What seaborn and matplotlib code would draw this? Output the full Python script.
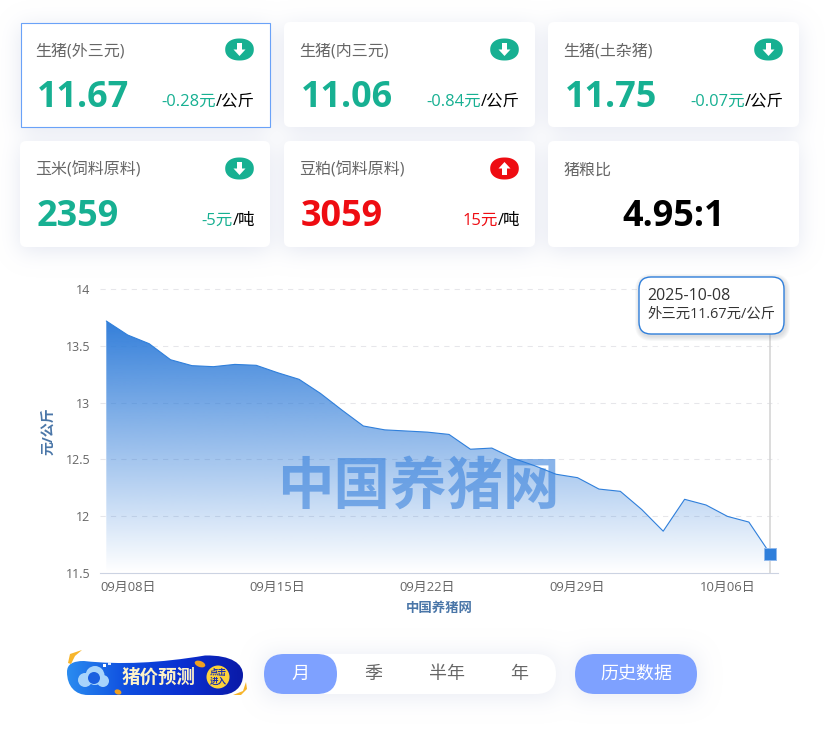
import numpy as np
import pandas as pd
import seaborn as sns
import matplotlib
matplotlib.use("Agg")
import matplotlib.pyplot as plt
from matplotlib.colors import LinearSegmentedColormap, to_rgb
from matplotlib.path import Path
from matplotlib.patches import FancyBboxPatch, Ellipse, Polygon, Circle, Rectangle, PathPatch

dates = ["2025-09-07", "2025-09-08", "2025-09-09", "2025-09-10", "2025-09-11", "2025-09-12",
         "2025-09-13", "2025-09-14", "2025-09-15", "2025-09-16", "2025-09-17", "2025-09-18",
         "2025-09-19", "2025-09-20", "2025-09-21", "2025-09-22", "2025-09-23", "2025-09-24",
         "2025-09-25", "2025-09-26", "2025-09-27", "2025-09-28", "2025-09-29", "2025-09-30",
         "2025-10-01", "2025-10-02", "2025-10-03", "2025-10-04", "2025-10-05", "2025-10-06",
         "2025-10-07", "2025-10-08"]
prices = [13.716, 13.593, 13.517, 13.376, 13.324, 13.315, 13.335, 13.327, 13.262, 13.204,
          13.08, 12.934, 12.794, 12.76, 12.75, 12.74, 12.72, 12.59, 12.60, 12.51, 12.445,
          12.37, 12.34, 12.24, 12.22, 12.06, 11.87, 12.15, 12.10, 12.0, 11.95, 11.67]
tick_dates = ["2025-09-08", "2025-09-15", "2025-09-22", "2025-09-29", "2025-10-06"]
tick_labels = ["09月08日", "09月15日", "09月22日", "09月29日", "10月06日"]
y_ticks = [11.5, 12, 12.5, 13, 13.5, 14]
y_tick_labels = ["11.5", "12", "12.5", "13", "13.5", "14"]

card_titles = ["生猪(外三元)", "生猪(内三元)", "生猪(土杂猪)", "玉米(饲料原料)", "豆粕(饲料原料)", "猪粮比"]
card_values = ["11.67", "11.06", "11.75", "2359", "3059", "4.95:1"]
card_changes = ["-0.28元", "-0.84元", "-0.07元", "-5元", "15元", ""]
card_units = ["/公斤", "/公斤", "/公斤", "/吨", "/吨", ""]
period_labels = ["月", "季", "半年", "年"]

GREEN = "#17b092"
RED = "#ee0c12"
BLUE = "#2f7fdb"
PILL = "#7ea1ff"

sns.set_style("white")
plt.rcParams['font.family'] = ['Open Sans', 'Noto Sans CJK SC', 'DejaVu Sans']


def px(size):
    return size * 0.72


def blur(mask, sigma):
    r = int(sigma * 3)
    k = np.exp(-0.5 * (np.arange(-r, r + 1) / sigma) ** 2)
    k /= k.sum()
    mask = np.apply_along_axis(lambda v: np.convolve(v, k, mode="same"), 0, mask)
    return np.apply_along_axis(lambda v: np.convolve(v, k, mode="same"), 1, mask)


def round_box(ax, x0, y0, x1, y1, r, color, zorder=2, ec="none", lw=0):
    box = FancyBboxPatch((x0, y0), x1 - x0, y1 - y0, boxstyle=f"round,pad=0,rounding_size={r}",
                         fc=color, ec=ec, lw=lw, zorder=zorder)
    ax.add_patch(box)
    return box


def arrow_icon(ax, cx, cy, color, up):
    t = np.linspace(0, 2 * np.pi, 80)
    ox = cx + 14.3 * np.sign(np.cos(t)) * np.abs(np.cos(t)) ** (2 / 2.2)
    oy = cy + 11 * np.sign(np.sin(t)) * np.abs(np.sin(t)) ** (2 / 2.2)
    ax.add_patch(Polygon(np.column_stack([ox, oy]), fc=color, ec="none", zorder=3))
    d = -1 if up else 1
    shape = [(-2.5, -6.5), (2.5, -6.5), (2.5, 0), (6, 0), (0, 6.5), (-6, 0), (-2.5, 0)]
    ax.add_patch(Polygon([(cx + a, cy + d * b) for a, b in shape], fc="white", ec="none", zorder=4))


fig = plt.figure(figsize=(8.25, 7.34), dpi=100, facecolor="white")

bg = fig.add_axes([0, 0, 1, 1], zorder=0)
bg.set_xlim(0, 825)
bg.set_ylim(734, 0)
bg.axis("off")

card_x = [(20, 270), (284, 535), (548, 799)]
card_y = [(22, 127), (141, 247)]

# soft shadow under cards and buttons
mask = np.zeros((734, 825))
for (y0, y1) in card_y:
    for (x0, x1) in card_x:
        mask[y0 + 4:y1 + 4, x0:x1] = 1
mask[654:698, 264:556] = 0.8
mask[654:698, 575:697] = 0.8
mask = blur(mask, 11)
shadow_rgba = np.zeros((734, 825, 4))
shadow_rgba[..., :3] = to_rgb("#d5daea")
shadow_rgba[..., 3] = np.clip(mask, 0, 1) * 0.62
bg.imshow(shadow_rgba, extent=(0, 825, 734, 0), aspect="auto", zorder=1, interpolation="nearest")
bg.set_xlim(0, 825)
bg.set_ylim(734, 0)

for i in range(6):
    x0, x1 = card_x[i % 3]
    y0, y1 = card_y[i // 3]
    if i == 0:
        bg.add_patch(Rectangle((x0 + 0.5, y0 + 0.5), x1 - x0 - 1, y1 - y0 - 1, fc="white", ec="#6aa2f8", lw=0.8, zorder=2))
    else:
        round_box(bg, x0, y0, x1, y1, 6, "white")

    color = RED if i == 4 else GREEN
    bg.text(x0 + 15.5, y0 + 33.5, card_titles[i], fontsize=px(16), color="#666666", va="baseline", zorder=5)
    if i == 5:
        bg.text((x0 + x1) / 2, y0 + 85, card_values[i], fontsize=px(36), fontweight="bold",
                color="black", ha="center", va="baseline", zorder=5)
        continue
    arrow_icon(bg, x1 - 30.5, y0 + 27.5, color, i == 4)
    bg.text(x0 + 17, y0 + 85, card_values[i], fontsize=px(36), fontweight="bold", color=color,
            va="baseline", zorder=5)
    unit = bg.text(x1 - 15, y0 + 83.5, card_units[i], fontsize=px(16.5), color="black",
                   ha="right", va="baseline", zorder=5)
    left = unit.get_window_extent(fig.canvas.get_renderer()).x0
    bg.text(left, y0 + 83.5, card_changes[i], fontsize=px(16.5), color=color, ha="right", va="baseline", zorder=5)

# chart
ax = fig.add_axes([100 / 825, 1 - 573.3 / 734, 678 / 825, 284.6 / 734], zorder=1)
ax.patch.set_alpha(0)
df = pd.DataFrame({"date": pd.to_datetime(dates), "price": prices})
sns.lineplot(data=df, x="date", y="price", ax=ax, color=BLUE, linewidth=0.8, zorder=4)

x_left = df["date"].iloc[0] - pd.Timedelta(days=0.294)
x_right = df["date"].iloc[0] + pd.Timedelta(days=31.36)
ax.set_xlim(x_left, x_right)
ax.set_ylim(11.5, 14)

fill = ax.fill_between(df["date"], df["price"], 11.5, color="none", lw=0)
area = np.zeros((256, 1, 4))
area[..., :3] = to_rgb("#2f7cd9")
area[:, 0, 3] = np.linspace(0.98, 0, 256)
xl = ax.get_xlim()
grad = ax.imshow(area, aspect="auto", extent=(xl[0], xl[1], 11.5, df["price"].max()), zorder=2)
grad.set_clip_path(fill.get_paths()[0], transform=ax.transData)
ax.set_xlim(x_left, x_right)
ax.set_ylim(11.5, 14)

for v in y_ticks[1:]:
    ax.axhline(v, color="#e6e6ea", lw=0.75, dashes=(5, 5), zorder=1, clip_on=False)

ax.set_yticks(y_ticks)
ax.set_yticklabels(y_tick_labels)
ax.set_xticks(pd.to_datetime(tick_dates))
ax.set_xticklabels(tick_labels)
ax.tick_params(axis="y", length=0, pad=7, labelsize=px(12.5), labelcolor="#666666")
ax.tick_params(axis="x", length=5, width=0.8, color="#ccd3e2", pad=0.5, labelsize=px(13), labelcolor="#666666")
for name in ["top", "right", "left"]:
    ax.spines[name].set_visible(False)
ax.spines["bottom"].set_color("#ccd3e2")
ax.set_xlabel("中国养猪网", fontsize=px(13.4), fontweight="bold", color="#4a76a8")
ax.set_ylabel("元/公斤", fontsize=px(14), fontweight="bold", color="#4a76a8")
ax.xaxis.set_label_coords((439 - 100) / 678, -(602 - 573.3) / 284.6, ax.transAxes)
ax.yaxis.set_label_coords((55 - 100) / 678, (573.3 - 431) / 284.6, ax.transAxes)

ax.text((418 - 100) / 678, (573.3 - 489) / 284.6, "中国养猪网", transform=ax.transAxes, fontsize=px(56.5),
        fontweight="bold", color="#3a82dc", alpha=0.6, ha="center", va="center", zorder=3.5)

last_date = df["date"].iloc[-1]
last_price = df["price"].iloc[-1]
ax.axvline(last_date, color="#d6d6d6", lw=1.2, zorder=3.8)
ax.plot([last_date], [last_price], marker="s", ms=8.6, mfc=BLUE, mec="#8fb8ec", mew=0.7, zorder=6, clip_on=False)

# top layer, tooltip
top = fig.add_axes([0, 0, 1, 1], zorder=2)
top.patch.set_alpha(0)
top.set_xlim(0, 825)
top.set_ylim(734, 0)
top.axis("off")
for s in range(5, 0, -1):
    top.add_patch(FancyBboxPatch((639 - s + 1, 277 - s + 2), 145 + 2 * s, 57 + 2 * s,
                                 boxstyle=f"round,pad=0,rounding_size={12 + s}",
                                 fc="#707888", ec="none", alpha=0.05, zorder=2))
round_box(top, 639, 277, 784, 334, 12, "white", zorder=3, ec=BLUE, lw=1.0)
top.text(647.5, 296, "2025-10-08", fontsize=px(16), color="#333333", va="center", zorder=4)
top.text(647, 314, "外三元11.67元/公斤", fontsize=px(14.4), color="#333333", va="center", zorder=4)

# bottom controls
round_box(bg, 264, 654, 556, 694, 20, "white")
round_box(bg, 264, 654, 337, 694, 20, PILL, zorder=3)
for label, cx, c in zip(period_labels, [300.5, 373, 447, 519.5], ["white", "#666666", "#666666", "#666666"]):
    bg.text(cx, 674, label, fontsize=px(18), color=c, ha="center", va="center", zorder=5)
round_box(bg, 575, 654, 697, 694, 20, PILL)
bg.text(636, 674, "历史数据", fontsize=px(18), color="white", ha="center", va="center", zorder=5)

# forecast banner
banner_pts = [(67, 672), (67, 664), (73, 661), (84, 661),
              (120, 665), (160, 663), (205, 655.5),
              (232, 655), (243, 664), (243, 675),
              (243, 687), (234, 695), (220, 695),
              (180, 695), (130, 695), (88, 695),
              (75, 695), (67, 686), (67, 672), (67, 672)]
banner_codes = [Path.MOVETO] + [Path.CURVE4] * 18 + [Path.CLOSEPOLY]
banner = PathPatch(Path(banner_pts, banner_codes), fc="none", ec="none", zorder=3)
bg.add_patch(banner)
banner_cmap = LinearSegmentedColormap.from_list("banner", ["#2a8cf0", "#0f4fe0", "#0a2fd0", "#0a1aa8"])
img = bg.imshow(np.linspace(0, 1, 256).reshape(1, -1), cmap=banner_cmap, aspect="auto",
                extent=(67, 243, 695, 655), zorder=3)
img.set_clip_path(banner)
bg.set_xlim(0, 825)
bg.set_ylim(734, 0)
bg.add_patch(Circle((85, 680), 7, fc="#a8d4fb", ec="none", zorder=4))
bg.add_patch(Circle((95, 675.5), 9.5, fc="#a8d4fb", ec="none", zorder=4))
bg.add_patch(Circle((103, 681), 6, fc="#a8d4fb", ec="none", zorder=4))
bg.add_patch(Circle((94, 678), 6, fc="#1a5fe0", ec="none", zorder=5))
bg.add_patch(Rectangle((103, 664), 3, 2.5, fc="white", ec="none", zorder=5))
bg.add_patch(Rectangle((108, 662), 3, 2.5, fc="#dceaff", ec="none", zorder=5))
bg.text(159, 678, "猪价预测", fontsize=px(18.5), fontweight="bold", color="#fff3c8", ha="center", va="center", zorder=6)
bg.add_patch(Circle((218, 677), 11.5, fc="#fdd23a", ec="none", zorder=5))
bg.text(218, 677, "点击\n进入", fontsize=px(8.5), fontweight="bold", color="#1a2fb0", ha="center", va="center",
        linespacing=0.95, zorder=6)
bg.add_patch(Ellipse((200, 664), 11, 6, angle=20, fc="#f0a020", ec="none", zorder=6))
bg.add_patch(Ellipse((118, 692), 7, 5, angle=20, fc="#f0a020", ec="none", zorder=6))
bg.add_patch(Polygon([(68, 663), (70, 654), (82, 650), (75, 656), (71, 664)], fc="#f7b52c", ec="none", zorder=6))
bg.add_patch(Polygon([(233, 695), (243, 691), (246, 682), (247, 689), (241, 695)], fc="#f7b52c", ec="none", zorder=6))

fig.savefig("out.png", dpi=100, facecolor="white")
